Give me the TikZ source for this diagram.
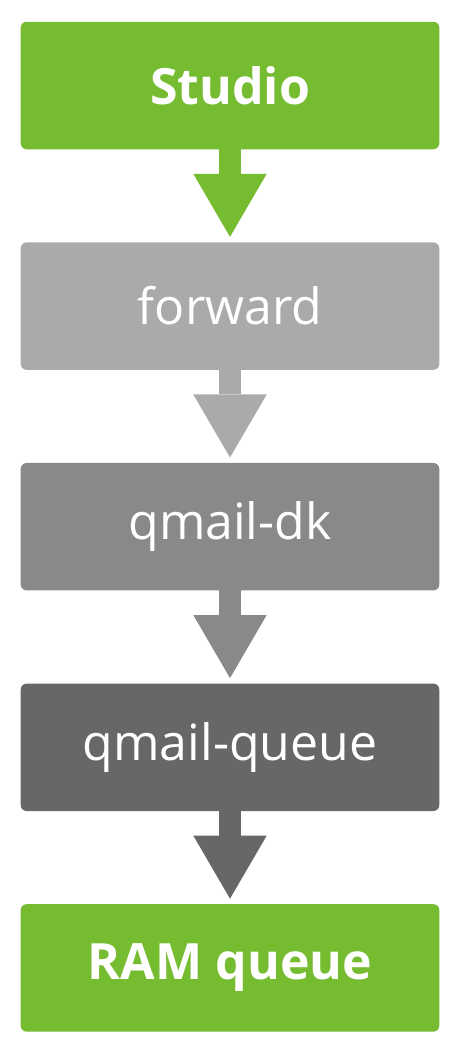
\documentclass[tikz,border=0pt]{standalone}
\usepackage{fontspec}
\setmainfont{Open Sans}
\usetikzlibrary{positioning,arrows.meta}

\definecolor{stepgreen}{HTML}{76BC31}
\definecolor{graylight}{HTML}{AAAAAA}
\definecolor{graymid}{HTML}{898989}
\definecolor{graydark}{HTML}{676767}

\tikzset{
    stage/.style={rounded corners=6pt, minimum width=418.6pt, minimum height=127.5pt,
        inner sep=0pt, outer sep=0pt, text=white, font=\fontsize{50}{60}\selectfont},
    flow/.style={line width=21.4pt, -{Triangle[width=73.4pt,length=63pt,line width=0pt]}, shorten >=5.5pt}
}

\begin{document}
\begin{tikzpicture}[node distance=93.1pt]
    \useasboundingbox (0,0) rectangle (462pt,-1047pt);

    \node[stage, fill=stepgreen, font=\fontsize{50}{60}\selectfont\bfseries] (studio) at (230pt,-85.5pt) {Studio};
    \node[stage, fill=graylight, below=of studio] (forward) {forward};
    \node[stage, fill=graymid, below=of forward] (dk) {qmail-dk};
    \node[stage, fill=graydark, below=of dk] (queue) {qmail-queue};
    \node[stage, fill=stepgreen, font=\fontsize{50}{60}\selectfont\bfseries, below=of queue] (ram) {RAM queue};

    \draw[flow, stepgreen] (studio.south) -- (forward.north);
    \draw[flow, graylight] (forward.south) -- (dk.north);
    \draw[flow, graymid] (dk.south) -- (queue.north);
    \draw[flow, graydark] (queue.south) -- (ram.north);
\end{tikzpicture}
\end{document}
